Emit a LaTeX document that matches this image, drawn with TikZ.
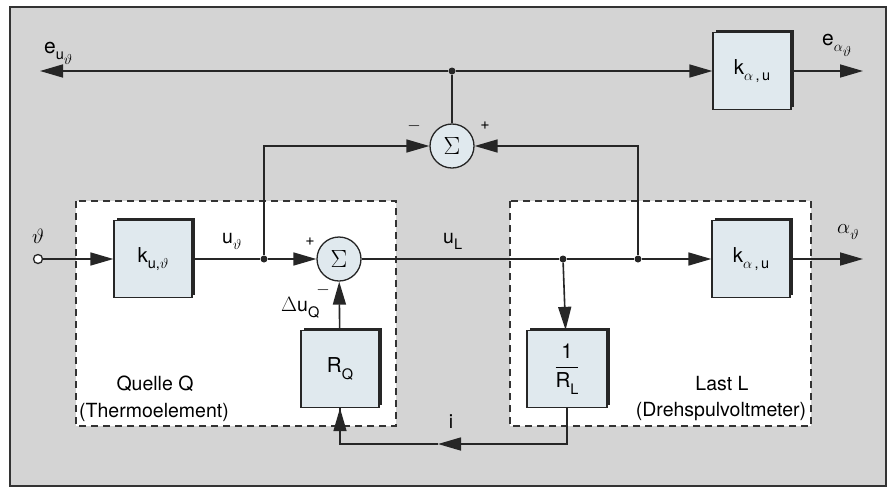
\documentclass[tikz,border=0pt]{standalone}
\usepackage{fontspec}
\setmainfont{TeX Gyre Heros}
\usetikzlibrary{arrows.meta,shadows}
\definecolor{bgc}{RGB}{212,212,212}
\definecolor{boxfill}{RGB}{224,233,238}
\newcommand\lsub[1]{\raisebox{-0.32em}{\fontsize{14.5}{15}\selectfont #1}}
\begin{document}
\begin{tikzpicture}[x=1pt,y=-1pt,
  >={Triangle[length=23pt,width=13pt]},
  sig/.style={line width=1.6pt, draw=black!85},
  blk/.style={draw=black!85, line width=1.3pt, fill=boxfill, minimum width=78pt, minimum height=77pt, inner sep=0pt,
     font=\fontsize{20.5}{22}\selectfont,
     drop shadow={shadow xshift=3pt,shadow yshift=3pt,fill=black!85,opacity=1}},
  sumn/.style={circle, draw=black!85, line width=1.3pt, fill=boxfill, minimum size=44pt, inner sep=0pt, font=\fontsize{28}{28}\selectfont},
  dot/.style={circle, fill=black!85, inner sep=0pt, minimum size=7pt},
  grp/.style={draw=black!80, dash pattern=on 7pt off 5pt, line width=1.1pt, fill=white},
  lbl/.style={font=\fontsize{19.5}{22}\selectfont, inner sep=0pt},
  sgn/.style={font=\fontsize{16}{16}\selectfont, inner sep=0pt}
]
\useasboundingbox (0,0) rectangle (891,488);
\path[draw=black!80, line width=1.2pt, fill=bgc] (10,7) rectangle (886,486);
\path[grp] (76,201) rectangle (396,426);
\path[grp] (510,201) rectangle (811,426);

% blocks
\node[blk] (ka1) at (752,71) {k\lsub{$\alpha$\,,\,u}};
\node[blk] (kut) at (153,259) {k\lsub{u,$\vartheta$}};
\node[blk] (rq) at (340,369) {R\lsub{Q}};
\node[blk, minimum width=80pt] (rl) at (567,369) {\begin{tabular}{@{}c@{}}1\\[1pt]\hline\rule{0pt}{21pt}R\lsub{L}\end{tabular}};
\node[blk] (ka2) at (751,259) {k\lsub{$\alpha$\,,\,u}};
\node[sumn] (s1) at (452,146) {$\Sigma$};
\node[sumn] (s2) at (339,259) {$\Sigma$};

% junctions and ends
\node[dot] (jt) at (452,71) {};
\node[dot] (ju) at (264,259) {};
\node[dot] (jl1) at (563,259) {};
\node[dot] (jl2) at (638,259) {};
\node[circle, draw=black!85, line width=1.3pt, fill=white, minimum size=9pt, inner sep=0pt] (in) at (38,259) {};
\coordinate (eL) at (40,71);
\coordinate (eR) at (863,71);
\coordinate (aR) at (863,259);
\coordinate (ib) at (438,444);

% connectors
\draw[sig,->] (jt) -- (eL);
\draw[sig,->] (jt) -- (ka1);
\draw[sig] (jt) -- (s1);
\draw[sig,->] (ka1) -- (eR);
\draw[sig,->] (ju) |- (s1.west);
\draw[sig,->] (jl2) |- (s1.east);
\draw[sig,->] (in) -- (kut);
\draw[sig] (kut) -- (ju);
\draw[sig,->] (ju) -- (s2);
\draw[sig,->] (rq) -- (s2);
\draw[sig] (s2) -- (jl1) -- (jl2);
\draw[sig,->] (jl2) -- (ka2);
\draw[sig,->] (jl1) -- (rl);
\draw[sig,->] (ka2) -- (aR);
\draw[sig,->] (rl) -- (rl.south |- ib) -- (ib);
\draw[sig] (ib) -| (rq);
\draw[sig,->] (rq.south |- ib) -- (rq);

% labels
\node[lbl, anchor=base west, font=\fontsize{21}{22}\selectfont] (leu) at (44,53) {e\lsub{u\lsub{$\vartheta$}}};
\node[lbl, anchor=base west, font=\fontsize{21}{22}\selectfont] (lea) at (822,45) {e\lsub{$\alpha$\lsub{$\vartheta$}}};
\node[lbl, font=\fontsize{22}{22}\selectfont] (lth) at (38,236) {$\vartheta$};
\node[lbl, anchor=base west] (lut) at (222,243) {u\lsub{$\vartheta$}};
\node[lbl, anchor=base west] (lul) at (443,243) {u\lsub{L}};
\node[lbl, anchor=base west] (lat) at (837,233) {$\alpha$\lsub{$\vartheta$}};
\node[lbl, anchor=base west] (ldu) at (281,311) {$\Delta$u\lsub{Q}};
\node[lbl] (li) at (451,422) {i};
\node[sgn] (m1) at (414,126) {$-$};
\node[sgn] (p1) at (485,126) {+};
\node[sgn] (p2) at (310,242) {+};
\node[sgn] (m2) at (323,290) {$-$};
\node[lbl] (q1) at (155,384) {Quelle Q};
\node[lbl] (q2) at (154,412) {(Thermoelement)};
\node[lbl] (l1) at (722,384) {Last L};
\node[lbl] (l2) at (721,412) {(Drehspulvoltmeter)};
\end{tikzpicture}
\end{document}
